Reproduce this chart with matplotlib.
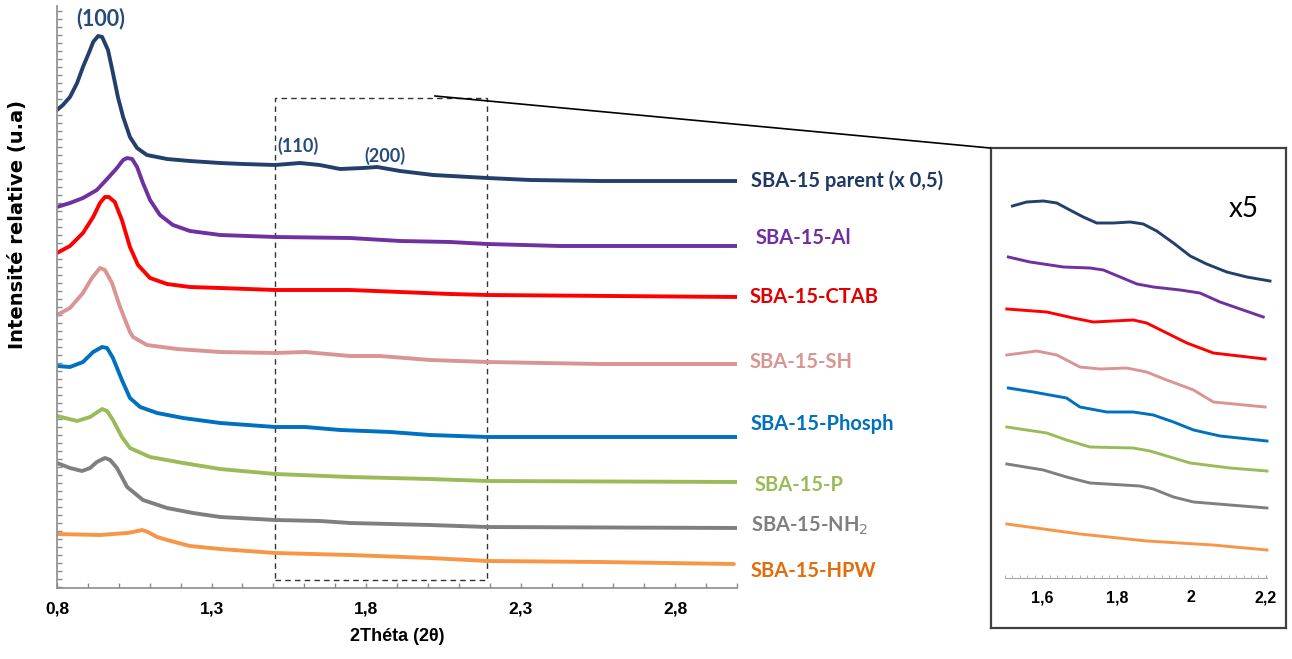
import matplotlib
matplotlib.use("Agg")
import matplotlib.pyplot as plt
from matplotlib.patches import Rectangle
from matplotlib.lines import Line2D
from matplotlib.ticker import MultipleLocator, FixedLocator

W, H = 1292, 659

# --- main diffractograms (2theta, relative intensity in a.u.) ---
x_parent = [0.800, 0.819, 0.842, 0.865, 0.884, 0.907, 0.917, 0.933, 0.946, 0.965, 0.981, 0.997,
            1.014, 1.036, 1.059, 1.091, 1.156, 1.230, 1.328, 1.402, 1.506, 1.586, 1.650, 1.716,
            1.790, 1.836, 1.910, 2.017, 2.192, 2.331, 2.557, 3.000]
i_parent = [549, 554, 562, 576, 592, 609, 617, 623, 622, 609, 586, 562,
            542, 522, 511, 504, 500, 498, 496, 495, 494, 496, 494, 490,
            491, 492, 488, 484, 481, 479, 478, 478]

x_al = [0.800, 0.842, 0.884, 0.929, 0.965, 0.994, 1.014, 1.027, 1.043, 1.059, 1.078, 1.101,
        1.133, 1.175, 1.230, 1.328, 1.506, 1.748, 1.910, 2.072, 2.192, 2.428, 3.000]
i_al = [452, 456, 461, 469, 481, 491, 499, 501, 500, 492, 476, 459,
        444, 434, 428, 424, 422, 421, 418, 417, 415, 413, 413]

x_ctab = [0.800, 0.842, 0.884, 0.917, 0.939, 0.955, 0.968, 0.987, 1.010, 1.036, 1.062, 1.101,
          1.156, 1.230, 1.328, 1.506, 1.748, 1.910, 2.072, 2.192, 3.000]
i_ctab = [406, 413, 426, 442, 456, 462, 462, 457, 439, 412, 394, 381,
          375, 372, 371, 369, 369, 367, 365, 364, 362]

x_sh = [0.800, 0.842, 0.884, 0.913, 0.939, 0.955, 0.978, 1.004, 1.036, 1.046, 1.091, 1.188,
        1.328, 1.506, 1.603, 1.748, 1.845, 2.007, 2.192, 2.557, 3.000]
i_sh = [344, 351, 366, 381, 391, 389, 376, 352, 327, 322, 314, 310,
        307, 306, 307, 303, 303, 299, 297, 295, 295]

x_phosph = [0.800, 0.842, 0.884, 0.917, 0.946, 0.962, 0.981, 1.010, 1.036, 1.069, 1.124, 1.208,
            1.328, 1.506, 1.603, 1.716, 1.878, 2.007, 2.192, 3.000]
i_phosph = [293, 292, 297, 307, 312, 311, 301, 279, 261, 252, 246, 241,
            236, 232, 232, 229, 227, 224, 222, 222]

x_p = [0.800, 0.865, 0.907, 0.946, 0.962, 0.981, 1.010, 1.036, 1.101, 1.208, 1.328,
       1.506, 1.748, 2.007, 2.192, 3.000]
i_p = [243, 238, 242, 250, 248, 239, 222, 211, 202, 196, 190,
       185, 182, 180, 178, 177]

x_nh2 = [0.800, 0.842, 0.881, 0.907, 0.929, 0.955, 0.972, 0.994, 1.027, 1.078, 1.156, 1.240,
         1.328, 1.506, 1.651, 1.748, 2.007, 2.192, 3.000]
i_nh2 = [196, 191, 188, 191, 197, 201, 199, 191, 172, 159, 151, 146,
         142, 139, 138, 136, 134, 132, 131]

x_hpw = [0.800, 0.939, 1.027, 1.046, 1.075, 1.094, 1.124, 1.156, 1.230, 1.328,
         1.506, 1.748, 2.007, 2.192, 2.557, 2.990]
i_hpw = [125, 124, 126, 127, 129, 127, 122, 119, 113, 110,
         106, 104, 101, 98, 97, 95]

# --- zoomed region 1.5-2.2 (x5) ---
zx_parent = [1.520, 1.558, 1.603, 1.639, 1.674, 1.710, 1.746, 1.791, 1.836, 1.871, 1.907,
             1.952, 1.997, 2.041, 2.095, 2.149, 2.211]
zi_parent = [453, 457, 458, 456, 449, 442, 436, 436, 437, 435, 428,
             416, 403, 395, 387, 382, 378]
zx_al = [1.509, 1.567, 1.657, 1.728, 1.764, 1.809, 1.854, 1.898, 1.970, 2.023, 2.077, 2.131, 2.193]
zi_al = [402, 397, 392, 391, 389, 382, 375, 372, 369, 366, 357, 350, 342]
zx_ctab = [1.505, 1.612, 1.683, 1.737, 1.791, 1.844, 1.880, 1.934, 1.988, 2.059, 2.198]
zi_ctab = [350, 347, 341, 337, 338, 339, 336, 326, 316, 306, 300]
zx_sh = [1.505, 1.585, 1.639, 1.701, 1.755, 1.826, 1.880, 1.934, 2.006, 2.059, 2.198]
zi_sh = [304, 308, 304, 292, 290, 291, 287, 279, 269, 257, 252]
zx_phosph = [1.509, 1.576, 1.665, 1.701, 1.773, 1.844, 1.898, 1.952, 2.006, 2.077, 2.203]
zi_phosph = [271, 267, 261, 252, 247, 247, 244, 237, 229, 223, 218]
zx_p = [1.505, 1.612, 1.665, 1.728, 1.844, 1.889, 1.943, 1.997, 2.104, 2.203]
zi_p = [232, 226, 219, 212, 211, 208, 202, 196, 191, 188]
zx_nh2 = [1.505, 1.603, 1.665, 1.728, 1.862, 1.898, 1.952, 2.006, 2.104, 2.203]
zi_nh2 = [195, 189, 182, 176, 173, 170, 162, 157, 154, 151]
zx_hpw = [1.505, 1.701, 1.881, 2.058, 2.203]
zi_hpw = [135, 125, 118, 114, 109]

names = ["SBA-15 parent (x 0,5)", "SBA-15-Al", "SBA-15-CTAB", "SBA-15-SH",
         "SBA-15-Phosph", "SBA-15-P", "SBA-15-NH$_2$", "SBA-15-HPW"]
line_colors = ["#233f6c", "#7030a0", "#ff0000", "#d99594",
               "#0070c0", "#9bbb59", "#7f7f7f", "#f79646"]
text_colors = ["#1f3864", "#7030a0", "#e00000", "#d99594",
               "#0070c0", "#9bbb59", "#7f7f7f", "#e46c0a"]
label_pos = [(751, 181), (756, 238), (750, 297), (750, 362),
             (751, 424), (755, 485), (751, 526), (751, 571)]

xs = [x_parent, x_al, x_ctab, x_sh, x_phosph, x_p, x_nh2, x_hpw]
ys = [i_parent, i_al, i_ctab, i_sh, i_phosph, i_p, i_nh2, i_hpw]
zxs = [zx_parent, zx_al, zx_ctab, zx_sh, zx_phosph, zx_p, zx_nh2, zx_hpw]
zys = [zi_parent, zi_al, zi_ctab, zi_sh, zi_phosph, zi_p, zi_nh2, zi_hpw]

label_font = "Lato"
axis_font = "Liberation Sans"

fig = plt.figure(figsize=(W / 100, H / 100), dpi=100)

ax = fig.add_axes([57 / W, (H - 588) / H, (737 - 57) / W, (588 - 6) / H])
for x, y, c in zip(xs, ys, line_colors):
    ax.plot(x, y, color=c, lw=2.8, solid_joinstyle="round", solid_capstyle="round")
ax.set_xlim(0.8, 3.0)
ax.set_ylim(71, 653)
ax.spines["top"].set_visible(False)
ax.spines["right"].set_visible(False)
for s in ("left", "bottom"):
    ax.spines[s].set_color("#8c8c8c")
    ax.spines[s].set_linewidth(1.2)
ax.xaxis.set_major_locator(FixedLocator([0.8, 1.3, 1.8, 2.3, 2.8]))
ax.xaxis.set_minor_locator(MultipleLocator(0.1))
ax.set_xticklabels(["0,8", "1,3", "1,8", "2,3", "2,8"], fontsize=12.5,
                   fontweight="bold", family=axis_font)
ax.yaxis.set_major_locator(MultipleLocator(8))
ax.set_yticklabels([])
ax.tick_params(axis="both", which="both", direction="in", length=3.5,
               color="#8c8c8c", width=1)
ax.tick_params(axis="x", pad=10)
ax.set_xlabel("2Théta (2θ)", fontsize=13, fontweight="bold", family=axis_font, labelpad=8)

# zoom box on main plot
ax.add_patch(Rectangle((1.506, 79), 0.686, 482, fill=False, ls=(0, (4, 3)),
                       lw=1.0, ec="#333333"))

# reflection labels
ax.text(0.94, 640, "(100)", color="#264b7a", fontsize=15.5, fontweight="bold",
        family=label_font, ha="center", va="center")
ax.text(1.58, 513, "(110)", color="#264b7a", fontsize=13, fontweight="bold",
        family=label_font, ha="center", va="center")
ax.text(1.86, 503, "(200)", color="#264b7a", fontsize=13, fontweight="bold",
        family=label_font, ha="center", va="center")

fig.text(18 / W, 1 - 224 / H, "Intensité relative (u.a)", rotation=90, fontsize=14,
         fontweight="bold", family="DejaVu Sans", ha="center", va="center")

for name, c, (px, py) in zip(names, text_colors, label_pos):
    fig.text(px / W, 1 - py / H, name, color=c, fontsize=14.5, fontweight="bold",
             family=label_font, ha="left", va="center")

# line linking zoom box to inset
fig.add_artist(Line2D([435 / W, 990 / W], [1 - 96 / H, 1 - 148 / H],
                      transform=fig.transFigure, color="black", lw=1.2))

# inset frame
frame = fig.add_axes([991 / W, (H - 628) / H, 295 / W, 480 / H])
frame.set_xticks([])
frame.set_yticks([])
for s in frame.spines.values():
    s.set_color("#404040")
    s.set_linewidth(1.6)

inset = fig.add_axes([1005 / W, (H - 578) / H, 262 / W, (578 - 160) / H])
inset.patch.set_alpha(0)
for x, y, c in zip(zxs, zys, line_colors):
    inset.plot(x, y, color=c, lw=2.1, solid_joinstyle="round", clip_on=False)
inset.set_xlim(1.5, 2.203)
inset.set_ylim(81, 499)
for s in ("top", "right", "left"):
    inset.spines[s].set_visible(False)
inset.spines["bottom"].set_color("#a6a6a6")
inset.xaxis.set_major_locator(FixedLocator([1.6, 1.8, 2.0, 2.2]))
inset.xaxis.set_minor_locator(MultipleLocator(0.02))
inset.set_xticklabels(["1,6", "1,8", "2", "2,2"], fontsize=11.5, fontweight="bold",
                      family=axis_font)
inset.set_yticks([])
inset.tick_params(axis="x", which="both", direction="in", length=2.5,
                  color="#a6a6a6", pad=9)
inset.text(2.14, 450, "x5", fontsize=20, family=label_font, ha="center", va="center")

fig.savefig("out.png", dpi=100)
